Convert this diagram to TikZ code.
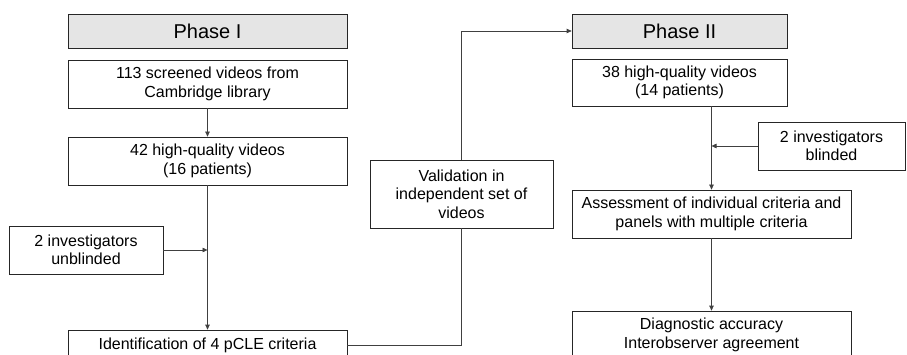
\documentclass[tikz,border=0pt]{standalone}
\usepackage{fontspec}
\setmainfont{Liberation Sans}
\usepackage{tikz}
\usetikzlibrary{arrows.meta}
\usetikzlibrary{calc}

\begin{document}
\begin{tikzpicture}[x=1pt,y=-1pt]
        \useasboundingbox (0,0) rectangle (907,355);
        \clip (0,0) rectangle (907,355);

        \begin{scope}[every node/.style={draw=black!85,line width=0.7pt,fill=white,
                    align=center,inner sep=0pt,font=\fontsize{16}{18.5}\selectfont},
                phase/.style={fill=black!10,font=\fontsize{20}{22}\selectfont}]
            \node[phase,minimum width=279pt,minimum height=34pt] (phaseI) at (207.5,31) {Phase I};
            \node[minimum width=279pt,minimum height=48pt] (screened) at (207.5,84) {113 screened videos from\\Cambridge library};
            \node[minimum width=279pt,minimum height=48pt] (hqI) at (207.5,161) {42 high-quality videos\\(16 patients)};
            \node[minimum width=154pt,minimum height=48pt] (unblinded) at (86,250) {2 investigators\\unblinded};
            \node[minimum width=279pt,minimum height=30pt] (ident) at (207.5,345) {Identification of 4 pCLE criteria};

            \node[minimum width=183pt,minimum height=68pt] (valid) at (461.5,194) {Validation in\\independent set of\\videos};

            \node[phase,minimum width=215pt,minimum height=34pt] (phaseII) at (679.5,31) {Phase II};
            \node[minimum width=215pt,minimum height=47pt] (hqII) at (679.5,82.5) {38 high-quality videos\\(14 patients)};
            \node[minimum width=147pt,minimum height=48pt] (blinded) at (831.5,146) {2 investigators\\blinded};
            \node[minimum width=279pt,minimum height=48pt] (assess) at (711.5,214) {Assessment of individual criteria and\\panels with multiple criteria};
            \node[minimum width=279pt,minimum height=48pt] (diag) at (711.5,335) {Diagnostic accuracy\\Interobserver agreement};
        \end{scope}

        \begin{scope}[>={Triangle[length=5pt,width=4.5pt]},
                every path/.style={draw=black!75,line width=0.7pt}]
            \draw [->] (screened) -- (hqI);
            \draw [->] (hqI) -- (ident);
            \draw [->] (unblinded.east) -- (unblinded.east -| hqI.south);
            \draw (ident.east) -| (valid.south);
            \draw [->] (valid.north) |- (phaseII.west);
            \draw [->] (hqII.south -| assess.north) -- (assess.north);
            \draw [->] (blinded.west) -- (blinded.west -| assess.north);
            \draw [->] (assess) -- (diag);
        \end{scope}
    \end{tikzpicture}
\end{document}
